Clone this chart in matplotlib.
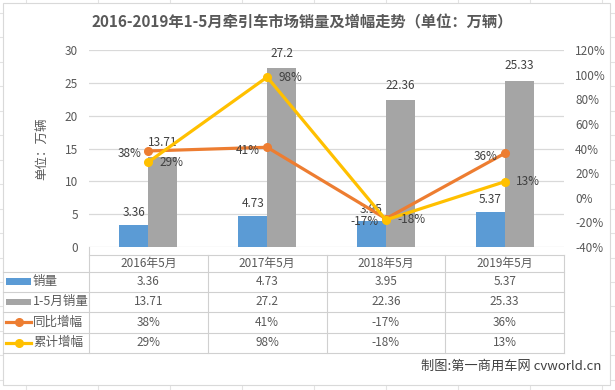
import matplotlib
matplotlib.use("Agg")
import matplotlib.pyplot as plt
from matplotlib.lines import Line2D
from matplotlib.patches import Rectangle
import matplotlib.transforms as mtransforms

plt.rcParams['font.family'] = ['Noto Sans CJK SC', 'DejaVu Sans']

# ---- data ----
categories = ["2016年5月", "2017年5月", "2018年5月", "2019年5月"]
sales_may = [3.36, 4.73, 3.95, 5.37]
sales_jan_may = [13.71, 27.2, 22.36, 25.33]
yoy_growth = [38, 41, -17, 36]          # %
cum_growth = [29, 98, -18, 13]          # %
series_names = ["销量", "1-5月销量", "同比增幅", "累计增幅"]
left_ticks = [0, 5, 10, 15, 20, 25, 30]
right_ticks = [-40, -20, 0, 20, 40, 60, 80, 100, 120]
title = "2016-2019年1-5月牵引车市场销量及增幅走势（单位：万辆）"
ylabel = "单位：万辆"
footer = "制图:第一商用车网 cvworld.cn"

# ---- style ----
W, H = 615, 390
BLUE = "#5B9BD5"
GRAY = "#A5A5A5"
ORANGE = "#ED7D31"
YELLOW = "#FFC000"
TXT = "#595959"
GRID = "#D9D9D9"
TBL = "#D0D0D0"

fig = plt.figure(figsize=(W / 100, H / 100), dpi=100)
fig.patch.set_facecolor("white")

def fx(px):
    return px / W

def fy(py):
    return 1 - py / H

# Excel sheet gridlines behind the chart
for k in range(20):
    y = 13 + 24.45 * k
    if y < H:
        fig.add_artist(Line2D([0, 1], [fy(y), fy(y)], color="#E3E3E3", lw=0.8, zorder=-5))
for k in range(10):
    x = 25.5 + 72 * k
    if x < W:
        fig.add_artist(Line2D([fx(x), fx(x)], [0, 1], color="#E3E3E3", lw=0.8, zorder=-5))
# chart area
fig.add_artist(Rectangle((fx(3), fy(385)), fx(610) - fx(3), fy(3) - fy(385),
                         transform=fig.transFigure, facecolor="white",
                         edgecolor="#D9D9D9", lw=0.8, zorder=-4))

# ---- axes ----
L, R, T, B = 89, 564, 50, 247
ax = fig.add_axes([fx(L), fy(B), fx(R) - fx(L), fy(T) - fy(B)])
ax.set_facecolor("none")
ax2 = ax.twinx()

x = list(range(len(categories)))
bw = 0.244
xb = [i - bw / 2 for i in x]
xg = [i + bw / 2 for i in x]
ax.bar(xb, sales_may, width=bw, color=BLUE, zorder=2)
ax.bar(xg, sales_jan_may, width=bw, color=GRAY, zorder=2)
ax.set_xlim(-0.5, len(categories) - 0.5)
ax.set_ylim(0, 30)
ax.set_yticks(left_ticks)
ax.set_xticks([])
ax.yaxis.grid(True, color=GRID, lw=0.9, zorder=0)
ax.set_axisbelow(True)
for s in ax.spines.values():
    s.set_visible(False)
ax.tick_params(axis='y', length=0, pad=8, labelsize=8.5, labelcolor=TXT)
ax.set_ylabel(ylabel, color=TXT, fontsize=9, labelpad=12)

yoy = [v / 100 for v in yoy_growth]
cum = [v / 100 for v in cum_growth]
ax2.plot(x, yoy, color=ORANGE, lw=2.3, marker='o', ms=5.5, zorder=3)
ax2.plot(x, cum, color=YELLOW, lw=2.3, marker='o', ms=5.5, zorder=4)
ax2.set_ylim(-0.4, 1.2)
ax2.set_yticks([v / 100 for v in right_ticks])
ax2.set_yticklabels([f"{v}%" for v in right_ticks])
ax2.tick_params(axis='y', length=0, pad=8, labelsize=8.5, labelcolor=TXT)
for s in ax2.spines.values():
    s.set_visible(False)
ax2.set_zorder(ax.get_zorder() + 1)
ax2.patch.set_visible(False)

# data labels
for xi, v in zip(xb, sales_may):
    ax.annotate(f"{v:g}", (xi, v), xytext=(0, 4), textcoords="offset points",
                ha="center", va="bottom", fontsize=8.5, color="#404040", zorder=6)
for xi, v in zip(xg, sales_jan_may):
    ax.annotate(f"{v:g}", (xi, v), xytext=(0, 6), textcoords="offset points",
                ha="center", va="bottom", fontsize=8.5, color="#404040", zorder=6)
for xi, v, lab in zip(x, yoy, yoy_growth):
    ax2.annotate(f"{lab}%", (xi, v), xytext=(-5, -2), textcoords="offset points",
                 ha="right", va="center", fontsize=8.5, color="#404040", zorder=6)
for xi, v, lab in zip(x, cum, cum_growth):
    ax2.annotate(f"{lab}%", (xi, v), xytext=(8, 0), textcoords="offset points",
                 ha="left", va="center", fontsize=8.5, color="#404040", zorder=6)

# title
fig.text(fx(302), fy(22), title, ha="center", va="center", fontsize=11,
         fontweight="bold", color=TXT)

# ---- data table ----
row_lines = [254.5, 271.5, 291.8, 312, 332.5, 353]
col_edges = [89, 208, 327, 445, 564]
fig.add_artist(Line2D([fx(89), fx(564)], [fy(row_lines[0])] * 2, color=TBL, lw=0.8))
for yl in row_lines[1:]:
    fig.add_artist(Line2D([fx(3), fx(564)], [fy(yl)] * 2, color=TBL, lw=0.8))
fig.add_artist(Line2D([fx(89), fx(89)], [fy(B), fy(row_lines[-1])], color=TBL, lw=0.8))
for xe in col_edges[1:]:
    fig.add_artist(Line2D([fx(xe), fx(xe)], [fy(row_lines[0]), fy(row_lines[-1])], color=TBL, lw=0.8))

blend = mtransforms.blended_transform_factory(ax.transData, fig.transFigure)
mid = lambda i: fy((row_lines[i] + row_lines[i + 1]) / 2)
for xi, c in zip(x, categories):
    fig.text(xi, mid(0), c, transform=blend, ha="center", va="center", fontsize=8.5, color=TXT)
rows = [
    [f"{v:g}" for v in sales_may],
    [f"{v:g}" for v in sales_jan_may],
    [f"{v}%" for v in yoy_growth],
    [f"{v}%" for v in cum_growth],
]
for r, vals in enumerate(rows):
    ym = mid(r + 1)
    for xi, t in zip(x, vals):
        fig.text(xi, ym, t, transform=blend, ha="center", va="center", fontsize=8.5, color=TXT)
    fig.text(fx(33), ym, series_names[r], ha="left", va="center", fontsize=9, color=TXT)

# legend keys
for r, c in enumerate([BLUE, GRAY]):
    ym = mid(r + 1)
    fig.add_artist(Rectangle((fx(6), ym - 3.2 / H), fx(31) - fx(6), 6.4 / H,
                             transform=fig.transFigure, facecolor=c, edgecolor="none"))
for r, c in zip([3, 4], [ORANGE, YELLOW]):
    ym = mid(r)
    fig.add_artist(Line2D([fx(6), fx(31)], [ym, ym], color=c, lw=2.3))
    fig.add_artist(Line2D([fx(18.5)], [ym], color=c, marker='o', ms=5.5, lw=0))

# footer
fig.text(fx(601), fy(366), footer, ha="right", va="center", fontsize=9.5, color="#404040")

fig.savefig("out.png", dpi=100)
